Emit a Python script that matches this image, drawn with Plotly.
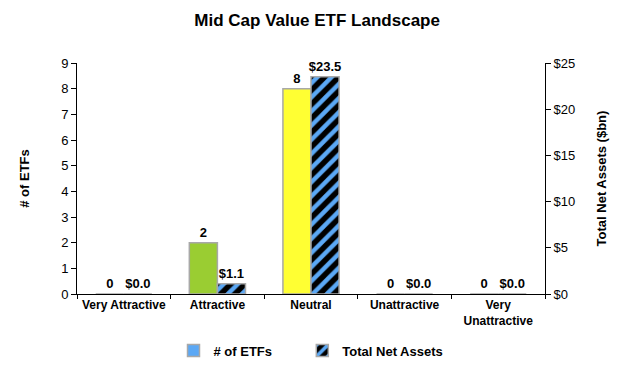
import plotly.graph_objects as go

categories = ["Very Attractive", "Attractive", "Neutral", "Unattractive", "Very<br>Unattractive"]
etf_counts = [0, 2, 8, 0, 0]
net_assets = [0.0, 1.1, 23.5, 0.0, 0.0]
etf_labels = ["0", "2", "8", "0", "0"]
asset_labels = ["$0.0", "$1.1", "$23.5", "$0.0", "$0.0"]
bar_colors = ["#5ba8f5", "#9acd32", "#ffff33", "#5ba8f5", "#5ba8f5"]

FONT = "Liberation Sans, Arial, sans-serif"

fig = go.Figure()
fig.add_trace(go.Bar(
    x=categories, y=etf_counts, name="<b># of ETFs</b>" + "&nbsp;" * 7, yaxis="y",
    offsetgroup="a", text=etf_labels, texttemplate="<b>%{text}</b>",
    textposition="outside", cliponaxis=False, constraintext="none",
    textfont=dict(family=FONT, size=13, color="black"),
    marker=dict(color=bar_colors, line=dict(color="#a8a8a8", width=1.5)),
))
fig.add_trace(go.Bar(
    x=categories, y=net_assets, name="<b>Total Net Assets</b>", yaxis="y2",
    offsetgroup="b", text=asset_labels, texttemplate="<b>%{text}</b>",
    textposition="outside", cliponaxis=False, constraintext="none",
    textfont=dict(family=FONT, size=13, color="black"),
    marker=dict(color="black", line=dict(color="#a8a8a8", width=1.5),
                pattern=dict(shape="/", bgcolor="black", fgcolor="#5ba8f5", fgopacity=1,
                             size=10, solidity=0.45, fillmode="replace")),
))

# page body has an 8px margin, so the figure is sized to the visible area
W, H = 622, 359
fig.update_layout(
    width=W, height=H,
    margin=dict(l=69, r=85, t=55, b=73, autoexpand=False),
    paper_bgcolor="white", plot_bgcolor="white",
    barmode="group", bargap=0.4, bargroupgap=0,
    font=dict(family=FONT, size=12, color="black"),
    title=dict(text="<b>Mid Cap Value ETF Landscape</b>", x=0.497, xanchor="center",
               y=1 - 12 / H, yanchor="middle", font=dict(size=17, family=FONT)),
    xaxis=dict(showline=True, linecolor="black", linewidth=1, ticks="outside",
               tickson="boundaries", ticklen=4, tickcolor="black",
               tickfont=dict(size=12, family=FONT), showgrid=False, automargin=False,
               tickprefix="<b>", ticksuffix="</b>"),
    yaxis=dict(range=[0, 9], dtick=1, showline=True, linecolor="black", linewidth=1,
               ticks="outside", ticklen=5, tickcolor="black", showgrid=False, zeroline=False,
               tickfont=dict(size=13, family=FONT), automargin=False,
               title=dict(text="<b># of ETFs</b>", font=dict(size=13), standoff=28)),
    yaxis2=dict(range=[0, 25], dtick=5, tickprefix="$", overlaying="y", side="right",
                showline=True, linecolor="black", linewidth=1, ticks="outside", ticklen=5,
                tickcolor="black", showgrid=False, zeroline=False, automargin=False,
                tickfont=dict(size=13, family=FONT),
                title=dict(text="<b>Total Net Assets ($bn)</b>", font=dict(size=13), standoff=22)),
    legend=dict(orientation="h", x=0.5, xanchor="center", y=-0.245, yanchor="middle",
                font=dict(size=13, family=FONT), itemwidth=30, traceorder="normal"),
    showlegend=True,
)

fig.write_html("out.html")
